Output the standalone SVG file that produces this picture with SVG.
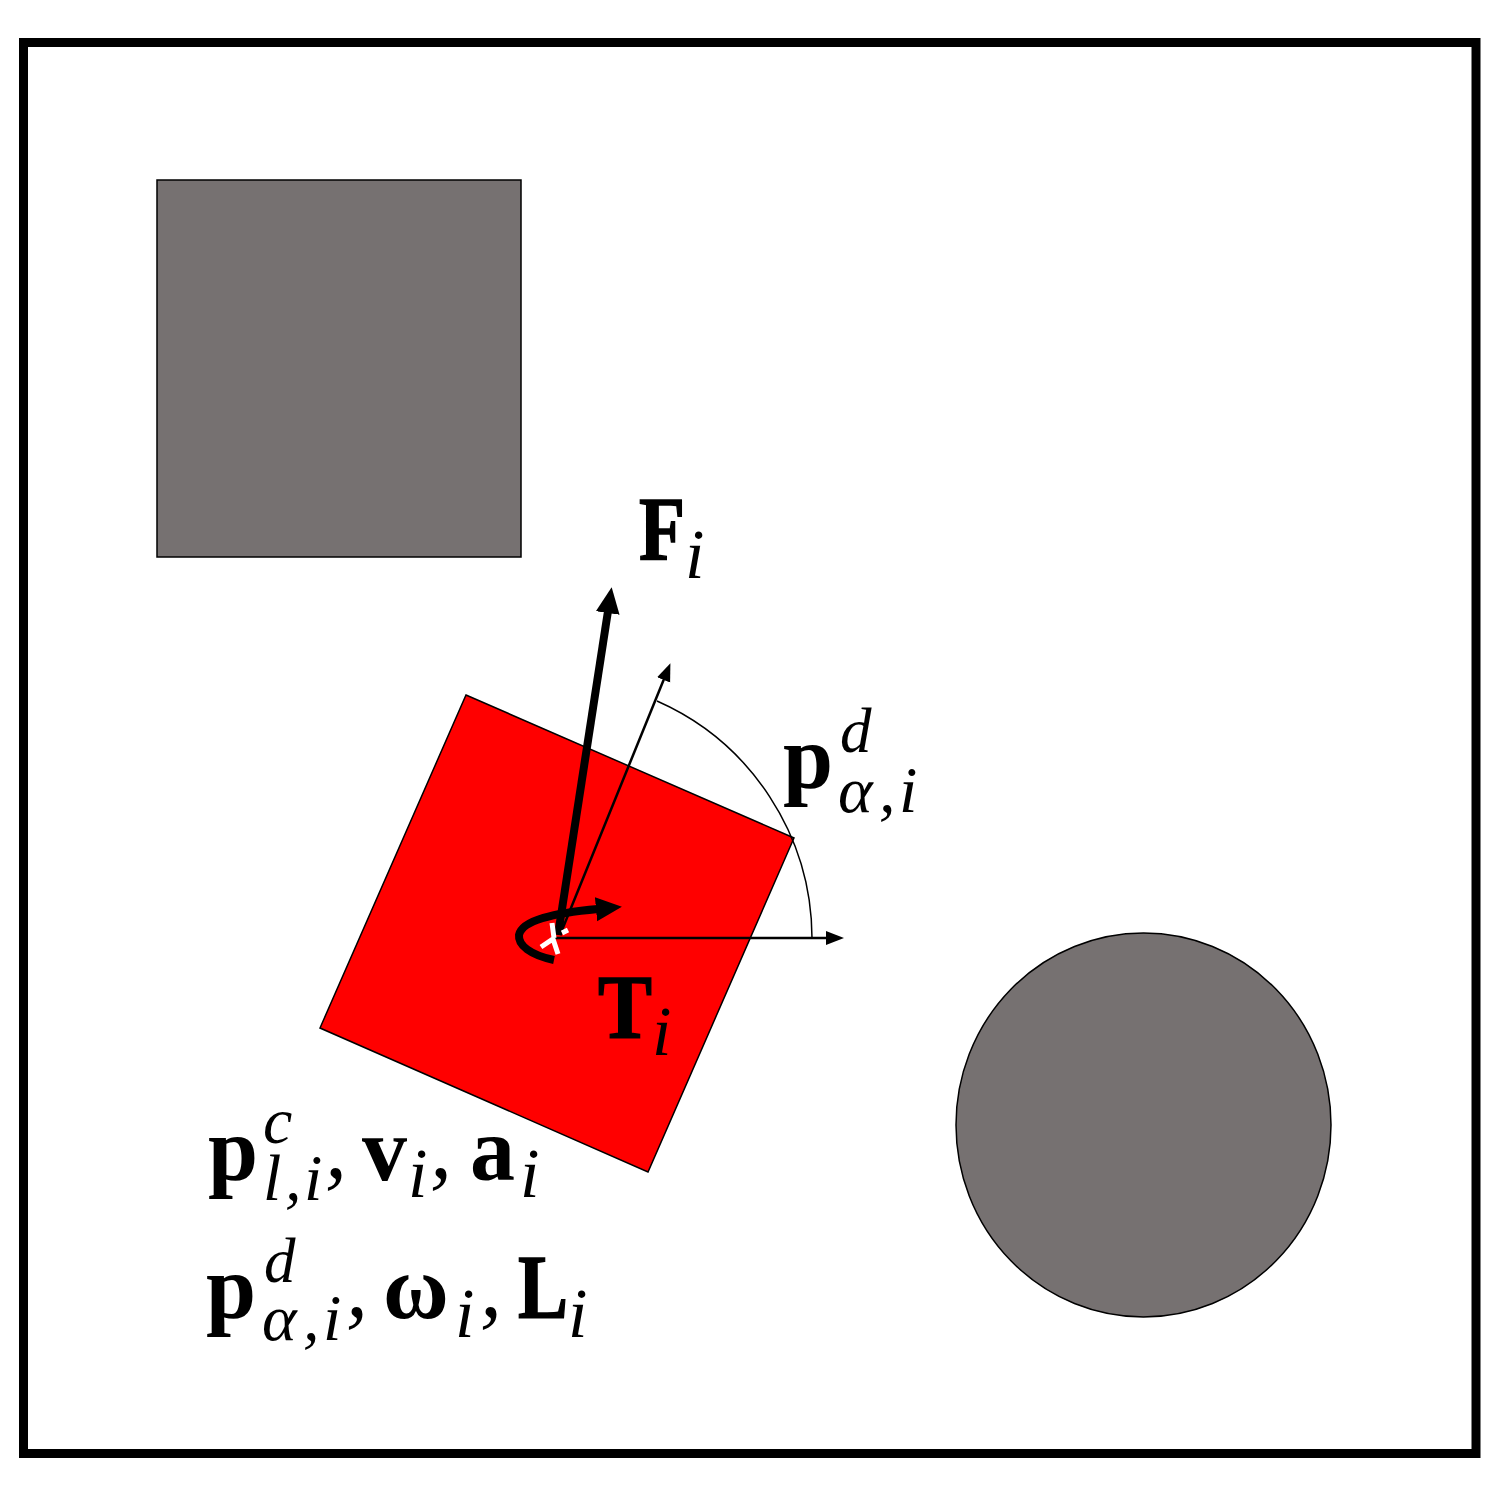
<svg xmlns="http://www.w3.org/2000/svg" width="1507" height="1504" viewBox="0 0 1507 1504">
<style>
text{font-family:"Liberation Serif","Times New Roman",serif;fill:#000}
.b{font-weight:700;font-size:90px}
.h{stroke:#000;stroke-width:1.5}
.s{font-style:italic;font-size:66px}
.d{font-style:italic;font-size:63px}
.c{font-style:italic;font-size:70px}
.k{font-style:italic;font-size:88px}
.o{fill:#767171;stroke:#000;stroke-width:1.5}
.l{fill:none;stroke:#000}
</style>
<defs>
<marker id="big" markerUnits="userSpaceOnUse" markerWidth="28" markerHeight="26" refX="2" refY="13" orient="auto"><path d="M0 1L26 13L0 25Z"/></marker>
<marker id="small" markerUnits="userSpaceOnUse" markerWidth="20" markerHeight="18" refX="1" refY="9" orient="auto"><path d="M0 2L18 9L0 16Z"/></marker>
</defs>
<rect width="1507" height="1504" fill="#fff"/>
<g id="frame"><rect x="23.500" y="42.500" width="1452.500" height="1411" fill="none" stroke="#000" stroke-width="9"/></g>
<g id="obstacle-square"><rect class="o" x="157" y="180" width="364" height="377"/></g>
<g id="obstacle-circle"><ellipse class="o" cx="1143.500" cy="1125" rx="187.500" ry="192"/></g>
<g id="agent"><polygon points="466,695 794,838 648,1172 320,1028" fill="#f00" stroke="#000" stroke-width="1.500"/></g>
<g id="connectors">
<path class="l" stroke-width="1.500" d="M657 701A260 260 0 0 1 812 938"/>
<line class="l" stroke-width="2.500" x1="552" y1="938" x2="827" y2="938" marker-end="url(#small)"/>
<line class="l" stroke-width="2.500" x1="560" y1="935" x2="664" y2="679" marker-end="url(#small)"/>
<line class="l" stroke-width="8" x1="558" y1="935" x2="608" y2="611" marker-end="url(#big)"/>
<path class="l" stroke-width="8" d="M554 960C530 955 518 945 519 935C522 920 555 913 598 909" marker-end="url(#big)"/>
<path d="M552 923L554 938M541 947L553 939L558 954M562 933L568 930" fill="none" stroke="#fff" stroke-width="5"/>
</g>
<g id="label-force"><text class="b h" x="639" y="560" textLength="46" lengthAdjust="spacingAndGlyphs">F</text><text class="c" x="685" y="578">i</text></g>
<g id="label-torque"><text class="b h" x="598" y="1038" textLength="54" lengthAdjust="spacingAndGlyphs">T</text><text class="c" x="652" y="1055">i</text></g>
<g id="label-angle"><text class="b" x="783" y="788">p</text><text class="d" x="840" y="752">d</text><text class="s" x="838 879 899" y="812">α,i</text></g>
<g id="label-state-1">
<text class="b" x="208" y="1180">p</text><text class="s" x="263" y="1143">c</text><text class="s" x="263 285 304" y="1200">l,i</text><text class="k" x="325" y="1177">,</text>
<text class="b" x="362" y="1180">v</text><text class="c" x="408" y="1197">i</text><text class="k" x="430" y="1177">,</text>
<text class="b" x="470" y="1180">a</text><text class="c" x="520" y="1197">i</text>
</g>
<g id="label-state-2">
<text class="b" x="206" y="1318">p</text><text class="d" x="264" y="1282">d</text><text class="s" x="262 303 323" y="1340">α,i</text><text class="k" x="346" y="1316">,</text>
<text class="b" x="383" y="1318">ω</text><text class="c" x="455" y="1337">i</text><text class="k" x="480" y="1316">,</text>
<text class="b h" x="518" y="1318" textLength="50" lengthAdjust="spacingAndGlyphs">L</text><text class="c" x="568" y="1337">i</text>
</g>
</svg>
